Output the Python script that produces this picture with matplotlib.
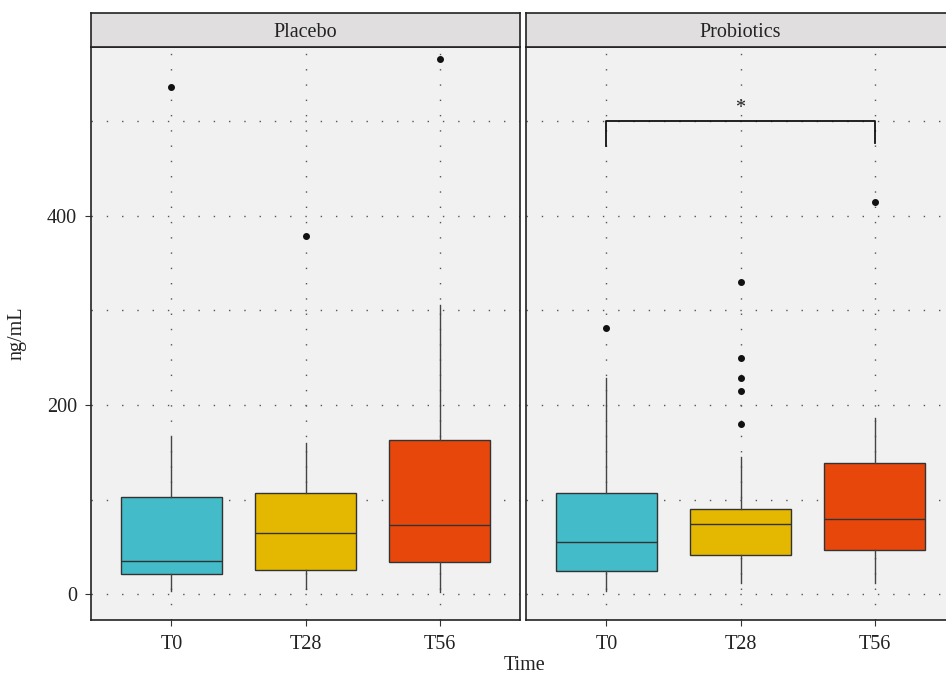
import matplotlib.pyplot as plt
from matplotlib.ticker import MultipleLocator

plt.rcParams['font.family'] = ['Liberation Serif', 'DejaVu Serif']

times = ["T0", "T28", "T56"]
colors = ["#43BBC8", "#E4B800", "#E8470C"]

# Placebo: box stats
placebo_med = [35.3, 64.3, 73.5]
placebo_q1 = [21.2, 25.4, 34.3]
placebo_q3 = [102.8, 106.4, 162.5]
placebo_lo = [2.8, 5.7, 1.8]
placebo_hi = [166.4, 159.4, 305.8]
placebo_out = [[536.8], [378.8], [566.5]]

# Probiotics
probio_med = [54.6, 74.6, 79.2]
probio_q1 = [24.6, 40.8, 46.1]
probio_q3 = [107.4, 89.8, 138.7]
probio_lo = [3.5, 11.6, 11.6]
probio_hi = [228.7, 144.7, 186.5]
probio_out = [[281.0], [330.3, 249.9, 228.7, 215.0, 180.0], [415.2]]

fig = plt.figure(figsize=(9.46, 6.77), dpi=100)

W, H = 946, 677
def fx(px): return px / W
def fy(py): return 1 - py / H

panels = [
    ("Placebo", 91, placebo_med, placebo_q1, placebo_q3, placebo_lo, placebo_hi, placebo_out),
    ("Probiotics", 526, probio_med, probio_q1, probio_q3, probio_lo, probio_hi, probio_out),
]
pw = 429
ptop, pbot, stop = 47, 620, 13
fs = 14.5

for i, (title, left, med, q1, q3, lo, hi, out) in enumerate(panels):
    ax = fig.add_axes([fx(left), fy(pbot), pw / W, (pbot - ptop) / H])
    ax.set_facecolor("#F1F1F1")
    stats = []
    for j in range(3):
        stats.append(dict(med=med[j], q1=q1[j], q3=q3[j], whislo=lo[j],
                          whishi=hi[j], fliers=out[j], label=times[j]))
    bp = ax.bxp(stats, positions=[1, 2, 3], widths=0.75, patch_artist=True,
                showcaps=False,
                boxprops=dict(edgecolor="#333333", linewidth=1.0),
                medianprops=dict(color="#333333", linewidth=1.0),
                whiskerprops=dict(color="#444444", linewidth=1.0),
                flierprops=dict(marker="o", markerfacecolor="#111111",
                                markeredgecolor="#111111", markersize=4))
    for patch, c in zip(bp["boxes"], colors):
        patch.set_facecolor(c)
    ax.set_xlim(0.4, 3.6)
    ax.set_ylim(-27.5, 578.8)
    ax.yaxis.set_major_locator(MultipleLocator(200))
    ax.yaxis.set_minor_locator(MultipleLocator(100))
    ax.grid(True, which="both", axis="both", color="#555555",
            linestyle=(0, (1, 10)), linewidth=1.0)
    ax.set_axisbelow(True)
    ax.set_xticks([1, 2, 3])
    ax.set_xticklabels(times)
    ax.tick_params(axis="both", which="major", length=4, color="#333333",
                   labelsize=fs, labelcolor="#222222")
    ax.tick_params(axis="x", which="major", pad=7)
    ax.tick_params(axis="y", which="major", pad=6)
    ax.tick_params(axis="y", which="minor", length=0)
    for s in ax.spines.values():
        s.set_color("#222222")
        s.set_linewidth(1.2)
    if i == 1:
        ax.tick_params(axis="y", which="both", left=False, labelleft=False)
        # significance bracket T0 vs T56
        ax.plot([1, 1, 3, 3], [474, 500, 500, 477], color="#111111", linewidth=1.3)
        ax.text(2, 514, "*", ha="center", va="center", fontsize=fs, color="#222222")
    # strip
    sa = fig.add_axes([fx(left), fy(ptop), pw / W, (ptop - stop) / H])
    sa.set_facecolor("#E0DEDF")
    sa.set_xticks([])
    sa.set_yticks([])
    for s in sa.spines.values():
        s.set_color("#222222")
        s.set_linewidth(1.2)
    sa.text(0.5, 0.42, title, transform=sa.transAxes, ha="center", va="center",
            fontsize=fs, color="#222222")

fig.text(fx(17), fy(333), "ng/mL", rotation=90, ha="center", va="center",
         fontsize=fs, color="#222222")
fig.text(fx(525), fy(666), "Time", ha="center", va="center",
         fontsize=fs, color="#222222")

fig.savefig("out.png", dpi=100)
